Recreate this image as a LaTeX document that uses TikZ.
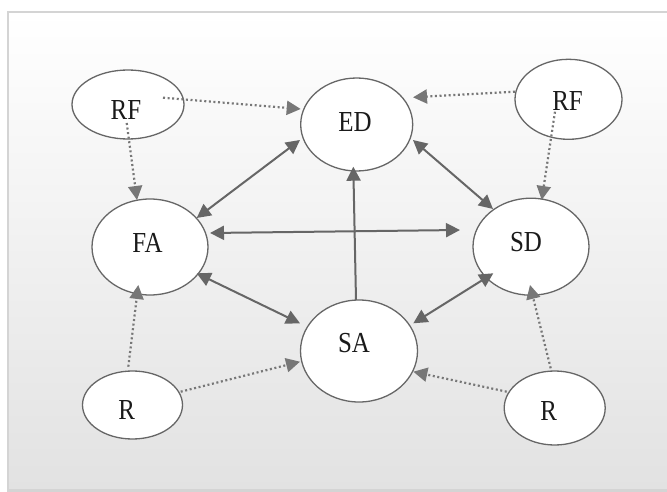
\documentclass[tikz,border=0pt]{standalone}
\usepackage{fontspec}
\setmainfont[FakeStretch=0.86]{Liberation Serif}
\usetikzlibrary{arrows.meta,calc,shapes.geometric}
\definecolor{edgec}{HTML}{666666}
\definecolor{dotc}{HTML}{777777}
\definecolor{framec}{HTML}{D4D4D4}
\definecolor{bgbot}{HTML}{E2E2E2}
\definecolor{txtc}{HTML}{1A1A1A}
\begin{document}
\begin{tikzpicture}[x=1pt,y=-1pt,
  ell/.style={draw=edgec, line width=1.3pt, fill=white, ellipse, inner sep=0pt, outer sep=0pt},
  lbl/.style={inner sep=0pt, font=\fontsize{29}{29}\selectfont, text=txtc},
  tipx/.style={Triangle[length=14pt,width=14pt]},
  solidarr/.style={draw=edgec, line width=2pt, {Triangle[length=14pt,width=14pt]}-{Triangle[length=14pt,width=14pt]}},
  onearr/.style={draw=edgec, line width=2pt, -{Triangle[length=14pt,width=14pt]}},
  dotarr/.style={draw=dotc, line width=2.2pt, dash pattern=on 2pt off 2.6pt, -{Triangle[length=14pt,width=14pt]}}
]
\path[use as bounding box] (0,0) rectangle (667,492);
\fill[white] (0,0) rectangle (667,492);
\begin{scope}
\clip (0,0) rectangle (667,492);
\shade[top color=white, bottom color=bgbot] (8,12) rectangle (670,490);
\draw[framec, line width=2.5pt] (8,12) rectangle (670,490.5);
\end{scope}

% ellipses
\node[ell, minimum width=112pt, minimum height=69pt] (RF1) at (128,104.5) {};
\node[ell, minimum width=112pt, minimum height=93pt] (ED) at (356.7,124.5) {};
\node[ell, minimum width=107pt, minimum height=80pt] (RF2) at (568.5,99.3) {};
\node[ell, minimum width=116pt, minimum height=96pt] (FA) at (150,247) {};
\node[ell, minimum width=116pt, minimum height=97pt] (SD) at (531,246.7) {};
\node[ell, minimum width=117pt, minimum height=102pt] (SA) at (359,351) {};
\node[ell, minimum width=100pt, minimum height=68pt] (R1) at (132.5,405) {};
\node[ell, minimum width=101pt, minimum height=74pt] (R2) at (554.7,408) {};

% dotted connectors
\draw[dotarr] ($(RF1)+(35,-6.8)$) -- ($(ED)+(-56,-15.5)$);
\draw[dotarr] ($(RF1)+(-1.3,18.5)$) -- ($(FA)+(-13,-47)$);
\draw[dotarr] ($(RF2)+(-53.5,-7.6)$) -- ($(ED)+(56.3,-27.2)$);
\draw[dotarr] ($(RF2)+(-13.5,12.4)$) -- ($(SD)+(10.7,-46.7)$);
\draw[dotarr] ($(R1)+(-4.2,-38.3)$) -- ($(FA)+(-11.7,38)$);
\draw[dotarr] ($(R1)+(48.2,-13.3)$) -- ($(SA)+(-59,10.7)$);
\draw[dotarr] ($(R2)+(-4,-39.7)$) -- ($(SD)+(-1,38.3)$);
\draw[dotarr] ($(R2)+(-48,-16.3)$) -- ($(SA)+(54.3,20.7)$);

% solid connectors
\draw[solidarr] ($(FA)+(46.7,-29)$) -- ($(ED)+(-56.7,15.5)$);
\draw[solidarr] ($(ED)+(56.3,15.5)$) -- ($(SD)+(-38,-37.7)$);
\draw[solidarr] ($(FA)+(60,-14)$) -- ($(SD)+(-71,-16.7)$);
\draw[onearr] ($(SA)+(-3,-51)$) -- ($(ED)+(-3.4,42.2)$);
\draw[solidarr] ($(FA)+(46.7,26.3)$) -- ($(SA)+(-59,-27.7)$);
\draw[solidarr] ($(SD)+(-37.7,26.6)$) -- ($(SA)+(54.3,-27.7)$);

% labels
\node[lbl] (RF1t) at (126,110) {RF};
\node[lbl] (EDt) at (355,122.2) {ED};
\node[lbl] (RF2t) at (567.5,101) {RF};
\node[lbl] (FAt) at (147.5,242.7) {FA};
\node[lbl] (SDt) at (526,242.5) {SD};
\node[lbl] (SAt) at (354,343.3) {SA};
\node[lbl] (R1t) at (126.7,409.7) {R};
\node[lbl] (R2t) at (548.7,411) {R};
\end{tikzpicture}
\end{document}
